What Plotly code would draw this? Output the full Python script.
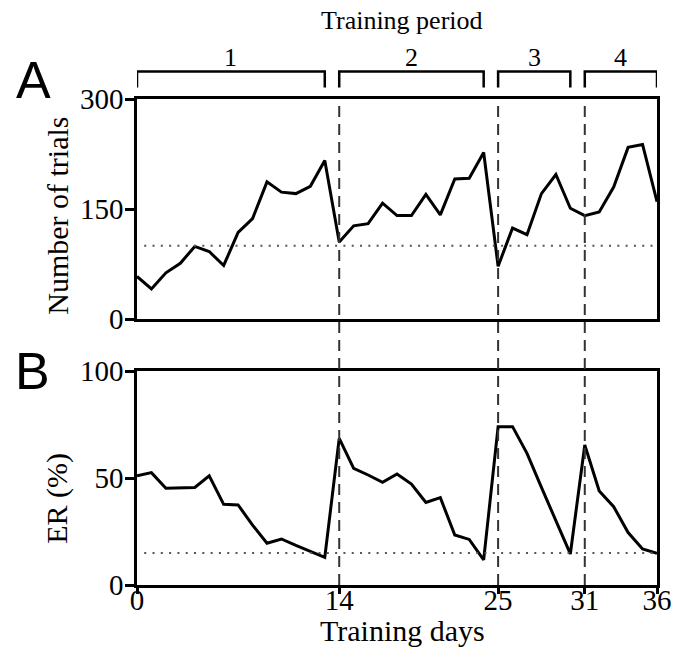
import plotly.graph_objects as go

# ---------------- data ----------------
days = list(range(37))
trials = [58, 41, 63, 76, 99, 92, 73, 118, 137, 187, 173, 171, 181, 216,
          105, 127, 130, 158, 141, 141, 170, 142, 191, 192, 227,
          72, 124, 115, 171, 197, 151,
          141, 146, 180, 234, 238, 160]
er = [51, 52.5, 45.2, 45.4, 45.6, 51, 37.7, 37.4, 28, 19.5, 21.5, 18.5, 15.7, 12.9,
      68.5, 54.5, 51.4, 48, 51.9, 47.2, 38.6, 40.8, 23.4, 21.3, 11.7,
      74, 74, 61.5, 45.6, 30, 14.5,
      65.4, 43.9, 36.6, 24.5, 16.8, 14.8]
period_labels = ["1", "2", "3", "4"]
period_start = [0, 14, 25, 31]
period_end = [13, 24, 30, 36]
boundaries = [14, 25, 31]
x_ticks = [0, 14, 25, 31, 36]
trials_ticks = [0, 150, 300]
er_ticks = [0, 50, 100]
trials_criterion = 100
er_criterion = 15

SERIF = "Liberation Serif, Times New Roman, serif"
SANS = "Liberation Sans, Arial, sans-serif"

W, H = 684, 653
plot_left, plot_right, plot_top, plot_bottom = 137, 662, 99, 585


def px_x(p):
    return (p - plot_left) / (plot_right - plot_left)


def px_y(p):
    return (plot_bottom - p) / (plot_bottom - plot_top)


fig = go.Figure()
fig.add_trace(go.Scatter(x=days, y=trials, mode="lines", line=dict(color="black", width=3),
                         xaxis="x", yaxis="y", showlegend=False, hoverinfo="skip"))
fig.add_trace(go.Scatter(x=days, y=er, mode="lines", line=dict(color="black", width=3),
                         xaxis="x2", yaxis="y2", showlegend=False, hoverinfo="skip"))

axis_common = dict(showgrid=False, zeroline=False, showline=True, linecolor="black",
                   linewidth=2.5, mirror=True)

fig.update_layout(
    width=W, height=H,
    margin=dict(l=plot_left, r=W - plot_right, t=plot_top, b=H - plot_bottom),
    paper_bgcolor="white", plot_bgcolor="white",
    font=dict(family=SERIF, size=29, color="black"),
    xaxis=dict(domain=[0, 1], range=[0, 36], anchor="y", showticklabels=False, ticks="",
               **axis_common),
    yaxis=dict(domain=[px_y(319), 1], range=[0, 300], tickvals=trials_ticks, ticks="outside",
               ticklen=9, tickwidth=2.5, tickcolor="black", anchor="x",
               ticklabelstandoff=-4, **axis_common),
    xaxis2=dict(domain=[0, 1], range=[0, 36], anchor="y2", tickvals=x_ticks, ticks="outside",
                ticklen=6, tickwidth=2.5, tickcolor="black", ticklabelstandoff=-19,
                **axis_common),
    yaxis2=dict(domain=[0, px_y(371)], range=[0, 100], tickvals=er_ticks, ticks="outside",
                ticklen=9, tickwidth=2.5, tickcolor="black", anchor="x2",
                ticklabelstandoff=-4, **axis_common),
)

shapes = []
for b in boundaries:
    shapes.append(dict(type="line", xref="x", yref="paper", x0=b, x1=b, y0=0, y1=1,
                       line=dict(color="#333333", width=2, dash="11px,7px")))
shapes.append(dict(type="line", xref="x", yref="y", x0=0.5, x1=36, y0=trials_criterion,
                   y1=trials_criterion, line=dict(color="#555555", width=2, dash="2px,6.3px")))
shapes.append(dict(type="line", xref="x2", yref="y2", x0=0.5, x1=36, y0=er_criterion,
                   y1=er_criterion, line=dict(color="#555555", width=2, dash="2px,6.3px")))
top_y = px_y(71.5)
leg_y = px_y(87.5)
for s, e in zip(period_start, period_end):
    shapes.append(dict(type="path", xref="x", yref="paper",
                       path=f"M {s},{leg_y} L {s},{top_y} L {e},{top_y} L {e},{leg_y}",
                       line=dict(color="black", width=2.5)))
fig.update_layout(shapes=shapes)

annotations = []
for lab, s, e in zip(period_labels, period_start, period_end):
    annotations.append(dict(text=lab, x=(s + e) / 2, y=px_y(57), xref="x", yref="paper",
                            xanchor="center", yanchor="middle", showarrow=False,
                            font=dict(family=SERIF, size=26)))
annotations.append(dict(text="Training period", x=px_x(405), y=px_y(20), xref="paper",
                        yref="paper", xanchor="center", yanchor="middle", showarrow=False,
                        font=dict(family=SERIF, size=26)))
annotations.append(dict(text="Number of trials", x=px_x(56), y=px_y(216), xref="paper",
                        yref="paper", xanchor="center", yanchor="middle", showarrow=False,
                        textangle=-90, font=dict(family=SERIF, size=30)))
annotations.append(dict(text="ER (%)", x=px_x(56), y=px_y(498), xref="paper", yref="paper",
                        xanchor="center", yanchor="middle", showarrow=False, textangle=-90,
                        font=dict(family=SERIF, size=30)))
annotations.append(dict(text="Training days", x=px_x(405), y=px_y(630), xref="paper",
                        yref="paper", xanchor="center", yanchor="middle", showarrow=False,
                        font=dict(family=SERIF, size=30)))
annotations.append(dict(text="A", x=px_x(13), y=px_y(80), xref="paper", yref="paper",
                        xanchor="left", yanchor="middle", showarrow=False,
                        font=dict(family=SANS, size=52)))
annotations.append(dict(text="B", x=px_x(12), y=px_y(371), xref="paper", yref="paper",
                        xanchor="left", yanchor="middle", showarrow=False,
                        font=dict(family=SANS, size=52)))
fig.update_layout(annotations=annotations)

fig.write_html("out.html", config={"displayModeBar": False},
               post_script="document.body.style.margin='0';document.body.style.padding='0';")
